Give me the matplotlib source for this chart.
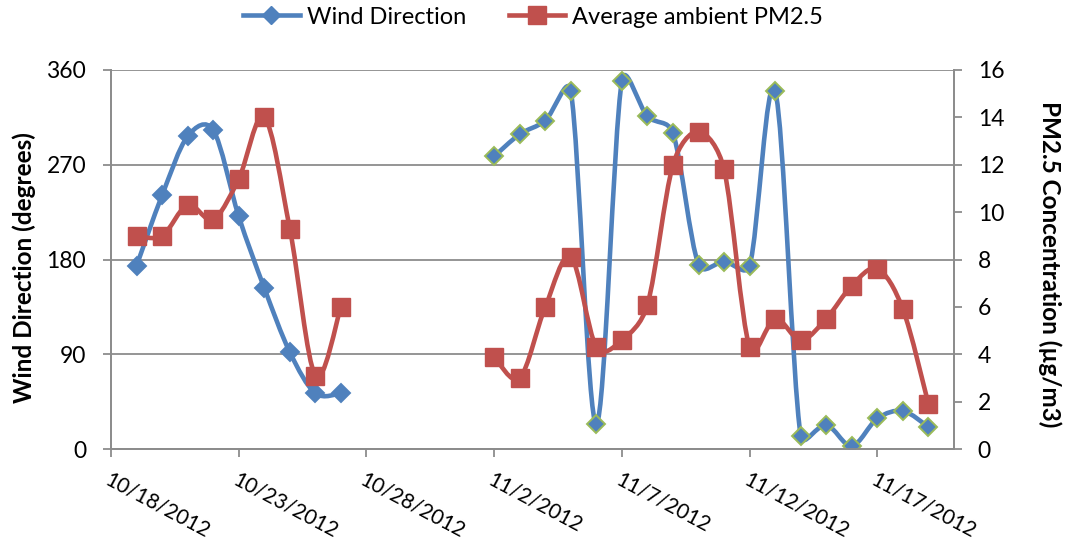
import numpy as np
import pandas as pd
import matplotlib
matplotlib.use("Agg")
import matplotlib.pyplot as plt
import matplotlib.dates as mdates
from matplotlib.path import Path
from matplotlib.patches import PathPatch
from matplotlib.lines import Line2D

plt.rcParams['font.family'] = ['Lato', 'DejaVu Sans']

oct_dates = pd.date_range("2012-10-19", "2012-10-27")
nov_dates = pd.date_range("2012-11-02", "2012-11-19")
wind_oct = [174, 241, 297, 303, 221, 153, 92, 53, 53]
wind_nov = [278, 299, 312, 340, 24, 350, 316, 300, 175, 178, 174, 340,
            12, 23, 3, 29, 36, 21]
pm_oct = [9.0, 9.0, 10.3, 9.7, 11.4, 14.0, 9.3, 3.1, 6.0]
pm_nov = [3.9, 3.0, 6.0, 8.1, 4.3, 4.6, 6.1, 12.0, 13.4, 11.8, 4.3, 5.5,
          4.6, 5.5, 6.9, 7.6, 5.9, 1.9]
x_ticks = pd.date_range("2012-10-18", "2012-11-17", freq="5D")
x_tick_labels = [f"{d.month}/{d.day}/{d.year}" for d in x_ticks]
wind_ticks = [0, 90, 180, 270, 360]
pm_ticks = list(range(0, 17, 2))

BLUE = "#4F81BD"
RED = "#C0504D"
GREEN = "#9BBB59"
GRAY = "#8C8C8C"
LW = 3.3


# excel style smoothed line: bezier through the points, control arms
# computed on screen and capped at half the segment length
def smooth_path(a, dates, values):
    x = mdates.date2num(dates)
    data = np.column_stack([x, np.asarray(values, float)])
    pts = a.transData.transform(data)
    n = len(pts)
    verts = [pts[0]]
    codes = [Path.MOVETO]
    for i in range(n - 1):
        p0 = pts[max(i - 1, 0)]
        p1 = pts[i]
        p2 = pts[i + 1]
        p3 = pts[min(i + 2, n - 1)]
        d12 = np.hypot(*(p2 - p1))
        t1 = p2 - p0
        t2 = p3 - p1
        f1 = 1 / 6
        f2 = 1 / 6
        if np.hypot(*t1) / 6 > d12 / 2:
            f1 = d12 / 2 / np.hypot(*t1)
        if np.hypot(*t2) / 6 > d12 / 2:
            f2 = d12 / 2 / np.hypot(*t2)
        verts += [p1 + t1 * f1, p2 - t2 * f2, p2]
        codes += [Path.CURVE4] * 3
    verts = a.transData.inverted().transform(np.array(verts))
    return Path(verts, codes)


fig = plt.figure(figsize=(10.65, 5.5), dpi=100)
ax = fig.add_axes([111 / 1065, 101 / 550, 843 / 1065, 379 / 550])
ax2 = ax.twinx()

ax.set_xlim(pd.Timestamp("2012-10-18"), pd.Timestamp("2012-11-20"))
ax.set_ylim(0, 360)
ax2.set_ylim(0, 16)

# wind direction
for d, v, edge in [(oct_dates, wind_oct, BLUE), (nov_dates, wind_nov, GREEN)]:
    ax.add_patch(PathPatch(smooth_path(ax, d, v), facecolor='none', edgecolor=BLUE,
                           lw=LW, capstyle='round', joinstyle='round', zorder=3))
    ax.plot(d, v, ls='none', marker='D', ms=9.5, mfc=BLUE, mec=edge, mew=1.4, zorder=4)

# PM2.5
for d, v in [(oct_dates, pm_oct), (nov_dates, pm_nov)]:
    ax2.add_patch(PathPatch(smooth_path(ax2, d, v), facecolor='none', edgecolor=RED,
                            lw=LW, capstyle='round', joinstyle='round', zorder=3))
    ax2.plot(d, v, ls='none', marker='s', ms=12.5, mfc=RED, mec=RED, zorder=4)

ax.set_yticks(wind_ticks)
ax2.set_yticks(pm_ticks)
ax.set_xticks(x_ticks)
ax.set_xticklabels(x_tick_labels, rotation=-28, ha='left', va='top',
                   rotation_mode='anchor')

ax.yaxis.grid(True, color=GRAY, lw=1.3)
ax.set_axisbelow(True)
for a in (ax, ax2):
    for s in a.spines.values():
        s.set_color(GRAY)
        s.set_linewidth(1.3)
    a.spines['top'].set_visible(False)
    a.tick_params(colors=GRAY, labelcolor='black', labelsize=16.5, width=1.3, length=6)
ax.tick_params(axis='x', pad=9, labelsize=15)
ax.tick_params(axis='y', pad=12)
ax2.tick_params(axis='y', pad=11)

fig.text(24 / 1065, 1 - 268 / 550, "Wind Direction (degrees)", rotation=90,
         ha='center', va='center', fontsize=17.5, fontweight='bold')
fig.text(1050 / 1065, 1 - 264 / 550, "PM2.5 Concentration (\u00b5g/m3)", rotation=-90,
         ha='center', va='center', fontsize=17.5, fontweight='bold')

handles = [Line2D([], [], color=BLUE, lw=LW, marker='D', ms=9.5, mfc=BLUE, mec=BLUE),
           Line2D([], [], color=RED, lw=LW, marker='s', ms=12.5, mfc=RED, mec=RED)]
fig.legend(handles, ["Wind Direction", "Average ambient PM2.5"], loc='center left',
           bbox_to_anchor=(243 / 1065, 1 - 17 / 550), ncol=2, frameon=False,
           fontsize=17, borderpad=0, borderaxespad=0, handlelength=2.4,
           columnspacing=1.8, handletextpad=0.3)

fig.savefig("out.png", dpi=100)
